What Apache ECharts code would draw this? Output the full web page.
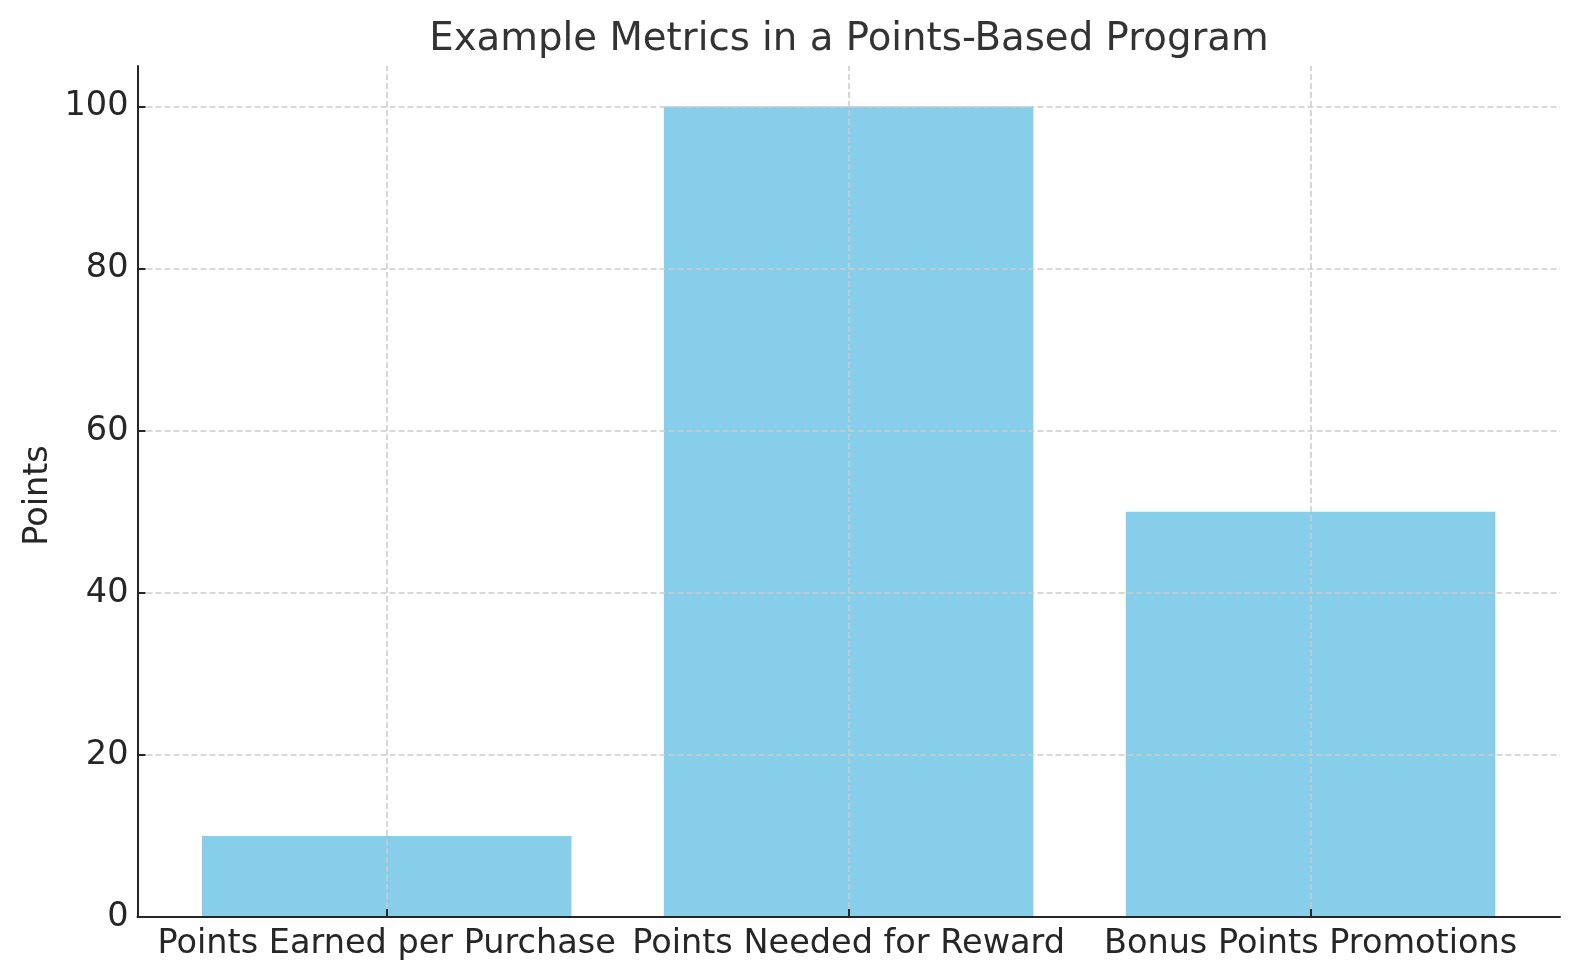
<!DOCTYPE html>
<html>
<head>
<meta charset="utf-8">
<script src="https://cdn.jsdelivr.net/npm/echarts@6/dist/echarts.min.js"></script>
<style>html,body{margin:0;padding:0;background:#fff;}#c{width:1580px;height:980px;}</style>
</head>
<body>
<div id="c"></div>
<script>
const categories = ['Points Earned per Purchase', 'Points Needed for Reward', 'Bonus Points Promotions'];
const values = [10, 100, 50];
const yTicks = { min: 0, max: 100, interval: 20 };
const yTopLimit = 105;
const titleText = 'Example Metrics in a Points-Based Program';
const yName = 'Points';

const FONT = 'DejaVu Sans';
const gridColor = '#cccccc';
const axisColor = '#262626';

const chart = echarts.init(document.getElementById('c'), null, { renderer: 'canvas' });
chart.setOption({
  backgroundColor: '#ffffff',
  animation: false,
  title: {
    text: titleText,
    left: 844,
    textAlign: 'center',
    top: 15,
    textStyle: { fontFamily: FONT, fontSize: 38.7, fontWeight: 'normal', color: '#333333' }
  },
  grid: [
    { left: 137.5, right: 20, top: 66, bottom: 63 },
    { left: 137.5, right: 20, top: 106.7, bottom: 63 },
    { left: 155.7, right: 38.5, top: 66, bottom: 63 }
  ],
  xAxis: [
    { type: 'value', gridIndex: 0, min: 0, max: 1, z: 4,
      axisLine: { show: true, onZero: false, lineStyle: { color: axisColor, width: 2 } },
      axisTick: { show: false }, axisLabel: { show: false }, splitLine: { show: false } },
    { type: 'value', gridIndex: 1, min: 0, max: 1, show: false },
    { type: 'category', gridIndex: 2, data: categories, z: 4,
      axisLine: { show: false },
      axisTick: { show: true, inside: true, alignWithLabel: true, length: 8, lineStyle: { color: axisColor, width: 2 } },
      axisLabel: { show: true, interval: 0, margin: 10, fontFamily: FONT, fontSize: 33.5, color: axisColor },
      splitLine: { show: false } }
  ],
  yAxis: [
    { type: 'value', gridIndex: 0, min: 0, max: 1, z: 4,
      name: yName, nameLocation: 'middle', nameGap: 82, nameRotate: 90,
      nameTextStyle: { fontFamily: FONT, fontSize: 33.5, color: axisColor, padding: [0, 8, 0, 0] },
      axisLine: { show: true, onZero: false, lineStyle: { color: axisColor, width: 2 } },
      axisTick: { show: false }, axisLabel: { show: false }, splitLine: { show: false } },
    { type: 'value', gridIndex: 1, min: yTicks.min, max: yTicks.max, interval: yTicks.interval, z: 3,
      axisLine: { show: false },
      axisTick: { show: true, inside: true, length: 8, lineStyle: { color: axisColor, width: 2 } },
      axisLabel: { show: true, margin: 9, fontFamily: FONT, fontSize: 33.5, color: axisColor },
      splitLine: { show: true, lineStyle: { color: gridColor, width: 1.5, type: [6, 3] } } },
    { type: 'value', gridIndex: 2, min: 0, max: yTopLimit, show: false }
  ],
  series: [{
    type: 'bar',
    xAxisIndex: 2,
    yAxisIndex: 2,
    data: values,
    barWidth: '80%',
    itemStyle: { color: '#87CEEB' },
    z: 2,
    markLine: {
      silent: true,
      symbol: ['none', 'none'],
      label: { show: false },
      lineStyle: { color: gridColor, width: 1.5, type: [6, 3] },
      data: categories.map(c => ({ xAxis: c })),
      z: 3
    }
  }]
});
</script>
</body>
</html>
